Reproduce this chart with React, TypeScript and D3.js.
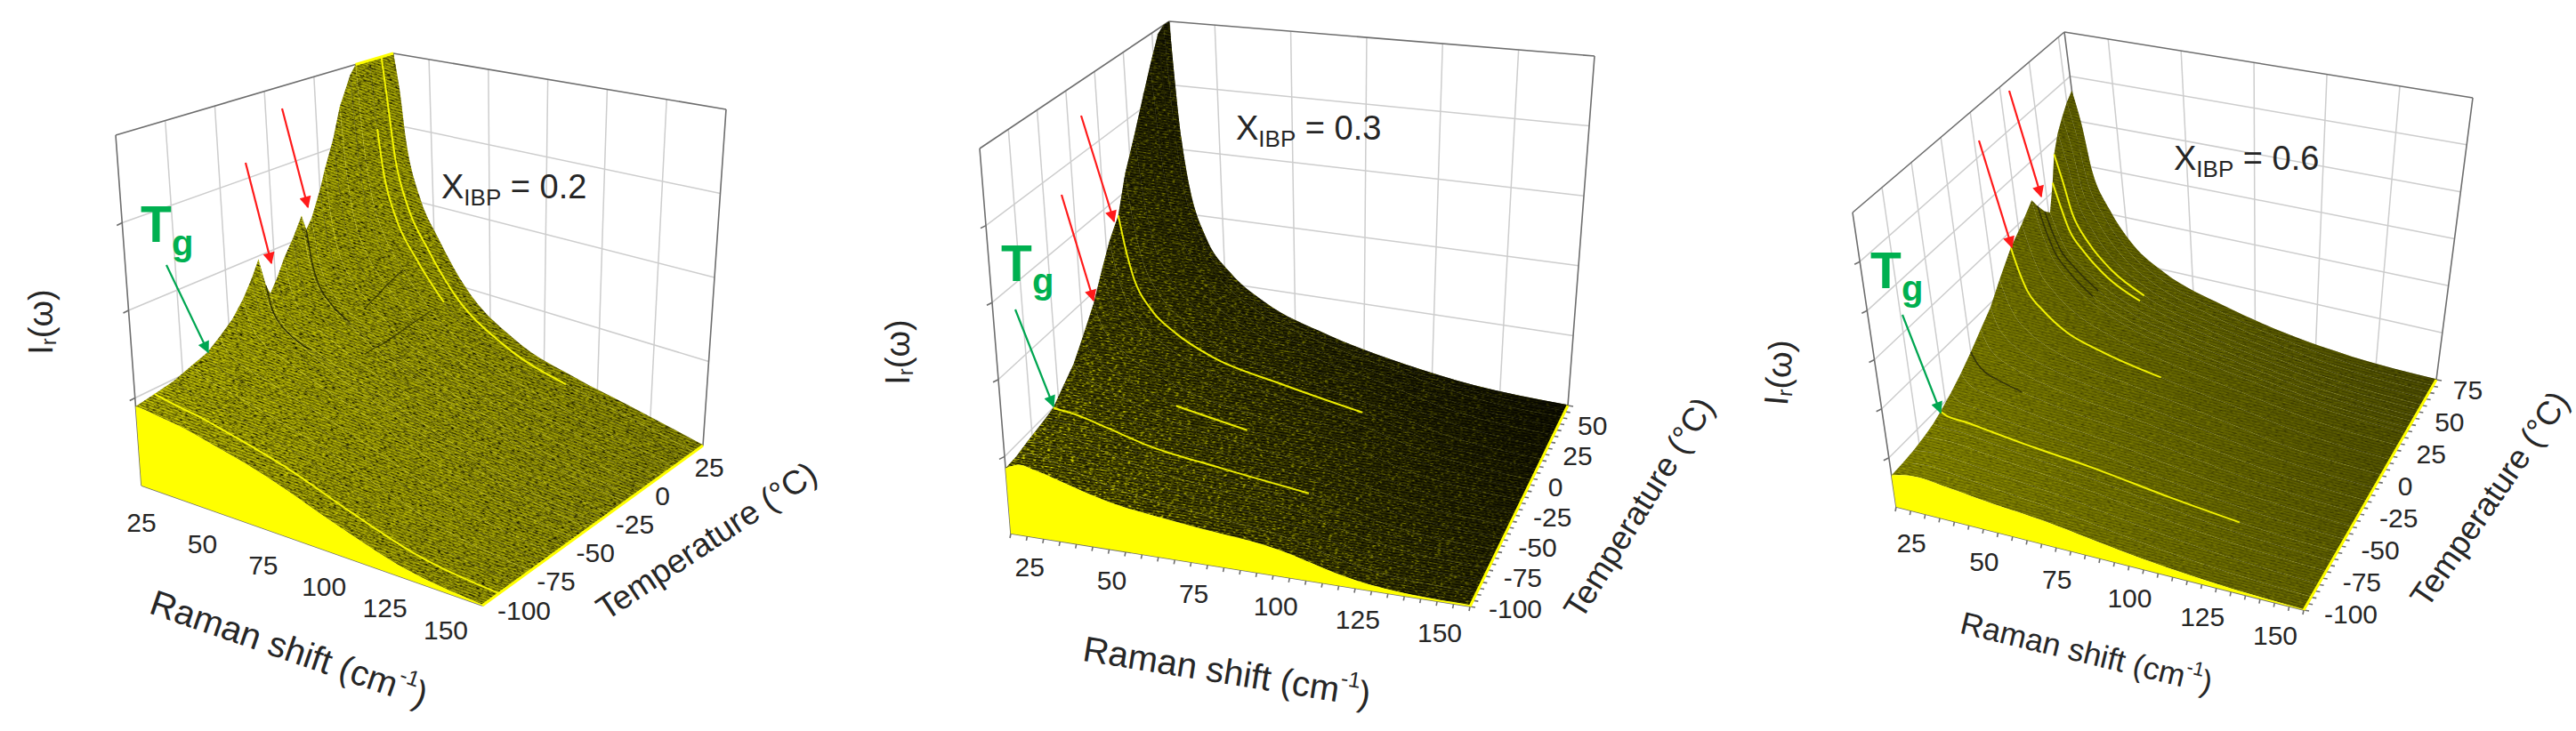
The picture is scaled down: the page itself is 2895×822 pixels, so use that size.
import React from 'react'
import * as d3 from 'd3'

// Raman shift columns of the spectra tables (cm-1)
const ramanCols = [10, 12, 14, 19, 27, 39, 62, 90, 115, 150]
const ramanTicks = [25, 50, 75, 100, 125, 150]

// X_IBP = 0.2 : one row per temperature (height of box = 1)
const tempsA = [-100, -90, -80, -70, -62, -55, -48, -42, -37, -33, -30, -28, -24, -20, -15, -10, -8, -5, 0, 3, 8, 12, 18, 21, 28, 34, 40]
const spectraA = [
  [0.226, 0.226, 0.224, 0.218, 0.21, 0.19, 0.147, 0.08, 0.03, 0.003],
  [0.235, 0.231, 0.228, 0.22, 0.211, 0.19, 0.147, 0.08, 0.03, 0.003],
  [0.245, 0.238, 0.233, 0.223, 0.213, 0.191, 0.146, 0.08, 0.03, 0.003],
  [0.265, 0.25, 0.241, 0.229, 0.216, 0.192, 0.146, 0.08, 0.03, 0.003],
  [0.28, 0.259, 0.248, 0.233, 0.219, 0.193, 0.146, 0.08, 0.03, 0.003],
  [0.31, 0.277, 0.261, 0.242, 0.224, 0.195, 0.146, 0.08, 0.031, 0.003],
  [0.345, 0.299, 0.277, 0.252, 0.23, 0.197, 0.145, 0.08, 0.031, 0.003],
  [0.39, 0.326, 0.297, 0.264, 0.238, 0.2, 0.144, 0.08, 0.032, 0.003],
  [0.44, 0.357, 0.319, 0.278, 0.246, 0.202, 0.143, 0.079, 0.032, 0.003],
  [0.49, 0.387, 0.341, 0.292, 0.254, 0.205, 0.142, 0.079, 0.033, 0.003],
  [0.4, 0.332, 0.301, 0.267, 0.239, 0.2, 0.144, 0.079, 0.032, 0.003],
  [0.37, 0.314, 0.288, 0.258, 0.234, 0.198, 0.144, 0.079, 0.032, 0.003],
  [0.41, 0.338, 0.305, 0.27, 0.241, 0.2, 0.144, 0.079, 0.032, 0.003],
  [0.46, 0.369, 0.328, 0.284, 0.249, 0.203, 0.143, 0.079, 0.033, 0.003],
  [0.51, 0.399, 0.35, 0.298, 0.258, 0.206, 0.142, 0.079, 0.033, 0.003],
  [0.57, 0.435, 0.376, 0.315, 0.268, 0.209, 0.14, 0.078, 0.034, 0.003],
  [0.52, 0.405, 0.354, 0.301, 0.259, 0.206, 0.142, 0.079, 0.033, 0.003],
  [0.55, 0.424, 0.368, 0.309, 0.264, 0.208, 0.141, 0.078, 0.034, 0.003],
  [0.63, 0.472, 0.403, 0.332, 0.278, 0.213, 0.14, 0.078, 0.035, 0.003],
  [0.69, 0.509, 0.43, 0.348, 0.288, 0.216, 0.138, 0.077, 0.035, 0.003],
  [0.78, 0.563, 0.47, 0.374, 0.303, 0.221, 0.137, 0.076, 0.036, 0.003],
  [0.875, 0.621, 0.511, 0.4, 0.319, 0.226, 0.135, 0.075, 0.037, 0.002],
  [0.97, 0.679, 0.554, 0.427, 0.335, 0.232, 0.133, 0.074, 0.038, 0.002],
  [1, 0.71, 0.576, 0.441, 0.343, 0.234, 0.132, 0.073, 0.039, 0.002],
  [1, 0.769, 0.619, 0.469, 0.359, 0.24, 0.13, 0.073, 0.04, 0.002],
  [1, 0.828, 0.662, 0.496, 0.376, 0.245, 0.129, 0.072, 0.041, 0.002],
  [1, 0.88, 0.7, 0.52, 0.39, 0.25, 0.127, 0.071, 0.042, 0.002],
]
const tempTicksA = [-100, -75, -50, -25, 0, 25]
// highlighted spectra: [temperature, first column, last column]
const brightA = [[-90, 0, 9], [34, 0, 7], [28, 1, 5]]
const darkA = [-30, -8]
// dark ragged seams across the spectra: [temperature, column]
const seamsA = [
  [[0, 4], [3, 4], [8, 4], [12, 4], [18, 4], [21, 4]],
  [[-15, 5], [-10, 5], [-5, 5], [3, 5], [12, 5], [21, 5]],
]

// X_IBP = 0.3
const tempsB = [-100, -90, -80, -70, -62, -55, -45, -35, -25, -14, -5, 3, 12, 20, 30, 40, 47, 55, 60, 65]
const spectraB = [
  [0.17, 0.178, 0.184, 0.175, 0.155, 0.125, 0.095, 0.068, 0.02, 0.004],
  [0.172, 0.178, 0.184, 0.176, 0.156, 0.127, 0.097, 0.069, 0.021, 0.004],
  [0.18, 0.182, 0.185, 0.178, 0.158, 0.129, 0.099, 0.07, 0.022, 0.004],
  [0.187, 0.187, 0.188, 0.18, 0.16, 0.131, 0.1, 0.071, 0.023, 0.004],
  [0.193, 0.191, 0.19, 0.182, 0.163, 0.133, 0.102, 0.072, 0.024, 0.004],
  [0.2, 0.196, 0.194, 0.185, 0.165, 0.135, 0.104, 0.073, 0.024, 0.004],
  [0.23, 0.215, 0.207, 0.194, 0.172, 0.139, 0.107, 0.074, 0.025, 0.004],
  [0.26, 0.24, 0.225, 0.205, 0.18, 0.144, 0.11, 0.075, 0.026, 0.004],
  [0.31, 0.27, 0.25, 0.22, 0.19, 0.15, 0.113, 0.076, 0.027, 0.004],
  [0.37, 0.31, 0.28, 0.24, 0.2, 0.157, 0.117, 0.078, 0.028, 0.004],
  [0.44, 0.36, 0.315, 0.26, 0.21, 0.163, 0.12, 0.079, 0.029, 0.004],
  [0.5, 0.4, 0.34, 0.27, 0.215, 0.167, 0.123, 0.08, 0.03, 0.004],
  [0.55, 0.44, 0.365, 0.285, 0.225, 0.172, 0.125, 0.08, 0.03, 0.004],
  [0.65, 0.49, 0.4, 0.305, 0.235, 0.175, 0.124, 0.078, 0.028, 0.004],
  [0.74, 0.54, 0.43, 0.325, 0.245, 0.178, 0.122, 0.074, 0.026, 0.003],
  [0.84, 0.59, 0.46, 0.345, 0.25, 0.178, 0.118, 0.068, 0.023, 0.003],
  [0.91, 0.62, 0.48, 0.35, 0.25, 0.175, 0.112, 0.062, 0.02, 0.003],
  [0.985, 0.65, 0.5, 0.355, 0.25, 0.172, 0.105, 0.055, 0.017, 0.002],
  [1, 0.65, 0.49, 0.345, 0.245, 0.167, 0.098, 0.048, 0.015, 0.002],
  [1, 0.63, 0.48, 0.33, 0.235, 0.16, 0.09, 0.04, 0.013, 0.002],
]
const tempTicksB = [-100, -75, -50, -25, 0, 25, 50]
const brightB = [[12, 0, 7], [-55, 0, 7], [-25, 5, 6]]
const darkB = [40, 55]

// X_IBP = 0.6
const tempsC = [-100, -90, -80, -70, -62, -55, -45, -35, -25, -15, -5, 5, 17, 28, 38, 42, 47, 51, 56, 60, 65, 70, 75, 80]
const spectraC = [
  [0.107, 0.113, 0.118, 0.123, 0.115, 0.1, 0.078, 0.04, 0.017, 0.002],
  [0.11, 0.114, 0.118, 0.123, 0.115, 0.101, 0.078, 0.041, 0.017, 0.002],
  [0.115, 0.117, 0.12, 0.124, 0.116, 0.102, 0.079, 0.042, 0.018, 0.002],
  [0.125, 0.123, 0.124, 0.126, 0.118, 0.103, 0.08, 0.043, 0.018, 0.002],
  [0.135, 0.13, 0.129, 0.129, 0.12, 0.105, 0.081, 0.044, 0.018, 0.002],
  [0.15, 0.14, 0.136, 0.133, 0.122, 0.106, 0.082, 0.045, 0.019, 0.002],
  [0.175, 0.155, 0.148, 0.14, 0.126, 0.109, 0.084, 0.046, 0.019, 0.002],
  [0.205, 0.175, 0.162, 0.15, 0.132, 0.112, 0.086, 0.048, 0.019, 0.002],
  [0.24, 0.2, 0.18, 0.16, 0.138, 0.116, 0.088, 0.049, 0.02, 0.002],
  [0.28, 0.225, 0.2, 0.172, 0.145, 0.12, 0.09, 0.05, 0.02, 0.002],
  [0.32, 0.25, 0.222, 0.185, 0.152, 0.125, 0.092, 0.052, 0.02, 0.002],
  [0.38, 0.3, 0.255, 0.205, 0.162, 0.13, 0.094, 0.054, 0.02, 0.003],
  [0.447, 0.36, 0.3, 0.24, 0.18, 0.14, 0.095, 0.055, 0.02, 0.003],
  [0.49, 0.395, 0.33, 0.26, 0.195, 0.146, 0.095, 0.053, 0.019, 0.003],
  [0.537, 0.43, 0.36, 0.28, 0.21, 0.152, 0.095, 0.05, 0.018, 0.003],
  [0.5, 0.41, 0.345, 0.275, 0.205, 0.15, 0.094, 0.049, 0.017, 0.003],
  [0.46, 0.385, 0.33, 0.27, 0.205, 0.15, 0.093, 0.047, 0.016, 0.003],
  [0.44, 0.37, 0.32, 0.265, 0.205, 0.15, 0.092, 0.045, 0.015, 0.002],
  [0.53, 0.44, 0.365, 0.29, 0.215, 0.155, 0.092, 0.044, 0.014, 0.002],
  [0.62, 0.52, 0.41, 0.31, 0.225, 0.158, 0.091, 0.042, 0.013, 0.002],
  [0.68, 0.57, 0.44, 0.33, 0.23, 0.158, 0.09, 0.04, 0.012, 0.002],
  [0.72, 0.61, 0.46, 0.34, 0.235, 0.157, 0.088, 0.038, 0.011, 0.002],
  [0.755, 0.64, 0.47, 0.345, 0.235, 0.156, 0.087, 0.035, 0.01, 0.002],
  [0.78, 0.66, 0.48, 0.35, 0.235, 0.155, 0.085, 0.033, 0.01, 0.002],
]
const tempTicksC = [-100, -75, -50, -25, 0, 25, 50, 75]
const brightC = [[17, 0, 6], [-55, 0, 8], [56, 0, 5], [60, 0, 5]]
const darkC = [42, 47, -25]

const panels = [
  {
    id: 'a', label: '0.2', temps: tempsA, spectra: spectraA, tempTicks: tempTicksA, bright: brightA, dark: darkA, seams: seamsA,
    tMax: 40, zTicks: [0.25, 0.5, 0.75], minorStep: 0, clipFrom: 21,
    // box corners on the page: front/back, left/right, bottom/top
    A: [159, 546], B: [542, 681], C: [790, 501], D: [456, 383], E: [130, 152], F: [442, 60], G: [816, 123], H: [544, 232],
    xOff: [-41, 27], tOff: [17, 5],
    raman: { x: 325, y: 729, a: 19, size: 40 }, temp: { x: 794, y: 608, a: -33.6, size: 37.5 }, ir: { x: 46, y: 362, a: -90 },
    note: [496, 223], tgT: [158, 272], tgG: [193, 287],
    green: [[187, 298], [234, 396]], red: [[[276, 183], [305, 296]], [[317, 122], [346, 233]]],
    tex: { base: '#9a9a06', hi: '#c8c80a', lo: '#707000' }, shadeTo: [790, 501], shade: 0.22, noise: [3.5, 2.5], lineOp: 0.5,
  },
  {
    id: 'b', label: '0.3', temps: tempsB, spectra: spectraB, tempTicks: tempTicksB, bright: brightB, dark: darkB, seams: [],
    tMax: 65, zTicks: [0.2, 0.4, 0.6, 0.8], minorStep: 5, clipFrom: 0,
    A: [1136, 600], B: [1652, 682], C: [1762, 456], D: [1334, 383], E: [1101, 167], F: [1314, 24], G: [1792, 63], H: [1665, 215],
    xOff: [-34, 29], tOff: [21, 2],
    raman: { x: 1379, y: 755, a: 9.2, size: 40 }, temp: { x: 1842, y: 571, a: -58, size: 37 }, ir: { x: 1009, y: 396, a: -90 },
    note: [1389, 157], tgT: [1125, 316], tgG: [1160, 330],
    green: [[1141, 348], [1184, 457]], red: [[[1193, 219], [1229, 338]], [[1215, 130], [1252, 249]]],
    tex: { base: '#484800', hi: '#747400', lo: '#1c1c00' }, shadeTo: [1700, 200], shade: 1, noise: [3, 5], lineOp: 0.3,
  },
  {
    id: 'c', label: '0.6', temps: tempsC, spectra: spectraC, tempTicks: tempTicksC, bright: brightC, dark: darkC, seams: [],
    tMax: 80, zTicks: [1 / 6, 2 / 6, 3 / 6, 4 / 6, 5 / 6], minorStep: 5, clipFrom: 0,
    A: [2131, 570], B: [2589, 686], C: [2738, 427], D: [2358, 335], E: [2082, 239], F: [2320, 36], G: [2779, 110], H: [2618, 337],
    xOff: [-32, 28], tOff: [23, 4],
    raman: { x: 2345, y: 734, a: 13.6, size: 35.5 }, temp: { x: 2798, y: 561, a: -55.5, size: 37 }, ir: { x: 1999, y: 419, a: -85 },
    note: [2443, 191], tgT: [2102, 324], tgG: [2137, 338],
    green: [[2138, 354], [2181, 464]], red: [[[2224, 158], [2261, 278]], [[2258, 102], [2294, 221]]],
    tex: { base: '#808100', hi: '#919200', lo: '#6a6b00' }, shadeTo: [2700, 250], shade: 0.5, noise: [1.2, 1], lineOp: 0.07,
  },
]

const FONT = '"Liberation Sans", Arial, sans-serif'
const INK = '#262626'
const BOX = '#6e6e6e'
const GRID = '#cdcdcd'
const YELLOW = '#ffff00'

type Pt = number[]
const mix = (p: Pt, q: Pt, f: number) => [p[0] + (q[0] - p[0]) * f, p[1] + (q[1] - p[1]) * f]

// d3 scales to box fractions, then trilinear between the eight box corners
const makeProject = (p: any) => {
  const sx = d3.scaleLinear().domain([10, 150]).range([0, 1])
  const st = d3.scaleLinear().domain([-100, p.tMax]).range([0, 1])
  return (x: number, t: number, z: number) => {
    const bottom = mix(mix(p.A, p.B, sx(x)), mix(p.D, p.C, sx(x)), st(t))
    const top = mix(mix(p.E, p.H, sx(x)), mix(p.F, p.G, sx(x)), st(t))
    return mix(bottom, top, z)
  }
}

const seg = (a: Pt, b: Pt) => `M${a[0]},${a[1]}L${b[0]},${b[1]}`

const Panel = ({ p }: { p: any }) => {
  const project = makeProject(p)
  const rowLine = d3.line().curve(d3.curveMonotoneX)
  const tMin = -100
  const rowPts = (t: number, row: number[]) => row.map((v, i) => project(ramanCols[i], t, v))
  const angle = (Math.atan2(p.B[1] - p.A[1], p.B[0] - p.A[0]) * 180) / Math.PI
  const order = d3.range(p.temps.length - 1).reverse()
  const cx = (p.A[0] + p.C[0]) / 2
  const cy = (p.A[1] + p.C[1]) / 2

  // mesh cell between a table row and the next one behind it
  const ribbon = (i: number) => {
    const near = rowPts(p.temps[i], p.spectra[i])
    const far = rowPts(p.temps[i + 1], p.spectra[i + 1]).reverse()
    return `${rowLine(near as any)}L${(rowLine(far as any) as string).slice(1)}Z`
  }
  const frontFace = () => {
    const end = project(150, tMin, 0)
    const start = project(10, tMin, 0)
    return `${rowLine(rowPts(tMin, p.spectra[0]) as any)}L${end[0]},${end[1]}L${start[0]},${start[1]}Z`
  }
  const minor = p.minorStep ? d3.range(-100, p.tMax + 0.1, p.minorStep) : []
  const minorX = p.minorStep ? d3.range(10, 150.1, 5) : []
  const seamPts = (seam: number[][]) =>
    seam.map(([t, c]) => project(ramanCols[c], t, p.spectra[p.temps.indexOf(t)][c]))

  return (
    <g>
      <defs>
        <pattern id={`tex-${p.id}`} width={5} height={3} patternUnits='userSpaceOnUse' patternTransform={`rotate(${angle})`}>
          <rect width={5} height={3} fill={p.tex.base} />
          <rect width={5} height={1} y={0} fill={p.tex.hi} />
          <rect width={5} height={1} y={2} fill={p.tex.lo} />
        </pattern>
        <linearGradient id={`shade-${p.id}`} gradientUnits='userSpaceOnUse' x1={p.A[0]} y1={p.A[1]} x2={p.shadeTo[0]} y2={p.shadeTo[1]}>
          <stop offset='0' stopColor='#000' stopOpacity={0} />
          <stop offset='1' stopColor='#000' stopOpacity={p.shade} />
        </linearGradient>
        <mask id={`surf-${p.id}`} maskUnits='userSpaceOnUse' x={0} y={0} width={2895} height={822}>
          {order.map((i) => <path key={i} d={ribbon(i)} fill='#fff' />)}
        </mask>
        {/* texture only: streaks along the spectra, no values come from it */}
        <filter id={`streak-${p.id}`} x='0' y='0' width='1' height='1' colorInterpolationFilters='sRGB'>
          <feTurbulence type='fractalNoise' baseFrequency='0.22 0.8' numOctaves={2} seed={7} result='n' />
          <feColorMatrix in='n' type='matrix' values={`0 0 0 0 0  0 0 0 0 0  0 0 0 0 0  ${p.noise[0]} 0 0 0 ${-p.noise[0] * 0.52}`} result='dark' />
          <feColorMatrix in='n' type='matrix' values={`0 0 0 0 1  0 0 0 0 1  0 0 0 0 0  0 ${p.noise[1]} 0 0 ${-p.noise[1] * 0.56}`} result='light' />
          <feMerge>
            <feMergeNode in='dark' />
            <feMergeNode in='light' />
          </feMerge>
        </filter>
      </defs>

      {/* walls */}
      <g stroke={GRID} strokeWidth={1.5} fill='none'>
        {p.tempTicks.slice(1).map((t: number) => <path key={`tg${t}`} d={seg(project(10, t, 0), project(10, t, 1))} />)}
        {ramanTicks.slice(0, -1).map((x) => <path key={`xg${x}`} d={seg(project(x, p.tMax, 0), project(x, p.tMax, 1))} />)}
        {p.zTicks.map((z: number) => (
          <path key={`zg${z}`} d={seg(project(10, tMin, z), project(10, p.tMax, z)) + seg(project(10, p.tMax, z), project(150, p.tMax, z))} />
        ))}
      </g>
      <g stroke={BOX} strokeWidth={1.6} fill='none'>
        <path d={seg(p.A, p.E) + seg(p.E, p.F) + seg(p.F, p.G) + seg(p.G, p.C) + seg(p.F, p.D)} />
        <path d={seg(p.A, p.B) + seg(p.B, p.C)} />
        {p.zTicks.map((z: number) => {
          const a = project(10, tMin, z)
          return <path key={`zt${z}`} d={seg(a, [a[0] - 6, a[1] + 3])} />
        })}
        {minor.map((t: number) => {
          const a = project(150, t, 0)
          return <path key={`tt${t}`} d={seg(a, [a[0] + 6, a[1] + 1])} />
        })}
        {minorX.map((x: number) => {
          const a = project(x, tMin, 0)
          return <path key={`xt${x}`} d={seg(a, [a[0] - 1, a[1] + 5])} />
        })}
      </g>

      {/* spectra, back to front */}
      <g>
        {order.map((i) => (
          <g key={p.temps[i]}>
            <path d={ribbon(i)} fill={`url(#tex-${p.id})`} stroke='none' />
            <path d={rowLine(rowPts(p.temps[i], p.spectra[i]) as any) as string} fill='none' stroke={i % 2 ? '#ffff30' : '#1a1a00'} strokeOpacity={p.lineOp} strokeWidth={1} />
          </g>
        ))}
      </g>
      <g mask={`url(#surf-${p.id})`}>
        <rect x={cx - 700} y={cy - 700} width={1400} height={1400} fill='#000' transform={`rotate(${angle} ${cx} ${cy})`} filter={`url(#streak-${p.id})`} />
        <rect x={cx - 700} y={cy - 700} width={1400} height={1400} fill={`url(#shade-${p.id})`} />
      </g>
      <g fill='none'>
        {p.dark.map((t: number) => {
          const i = p.temps.indexOf(t)
          return <path key={`d${t}`} d={rowLine(rowPts(t, p.spectra[i]).slice(0, 5) as any) as string} stroke='#151500' strokeWidth={1.5} strokeOpacity={0.7} />
        })}
        {p.seams.map((s: number[][], i: number) => (
          <path key={`s${i}`} d={d3.line()(seamPts(s) as any) as string} stroke='#1c1c00' strokeWidth={1.4} strokeOpacity={0.6} />
        ))}
        {p.bright.map(([t, from, to]: number[]) => {
          const i = p.temps.indexOf(t)
          return <path key={`b${t}`} d={rowLine(rowPts(t, p.spectra[i]).slice(from, to + 1) as any) as string} stroke={YELLOW} strokeWidth={2} strokeOpacity={0.9} />
        })}
        {p.clipFrom ? <path d={seg(project(10, p.clipFrom, 1), project(10, p.tMax, 1))} stroke={YELLOW} strokeWidth={3} /> : null}
      </g>
      {/* front spectrum is the solid yellow face, right edge is a yellow sliver */}
      <path d={frontFace()} fill={YELLOW} stroke='none' />
      <path d={seg(p.B, p.C)} stroke={YELLOW} strokeWidth={3} fill='none' />

      {/* tick labels */}
      <g fontFamily={FONT} fontSize={30} fill={INK}>
        {ramanTicks.map((x) => {
          const a = project(x, tMin, 0)
          return <text key={`xl${x}`} x={a[0] + p.xOff[0]} y={a[1] + p.xOff[1]} textAnchor='middle' dominantBaseline='central'>{x}</text>
        })}
        {p.tempTicks.map((t: number) => {
          const a = project(150, t, 0)
          return <text key={`tl${t}`} x={a[0] + p.tOff[0]} y={a[1] + p.tOff[1]} textAnchor='start' dominantBaseline='central'>{t}</text>
        })}
      </g>

      {/* axis titles */}
      <g fontFamily={FONT} fill={INK} textAnchor='middle' dominantBaseline='central'>
        <text transform={`translate(${p.raman.x},${p.raman.y}) rotate(${p.raman.a})`} fontSize={p.raman.size}>
          Raman shift (cm<tspan fontSize={p.raman.size * 0.62} dy={-p.raman.size * 0.35}>-1</tspan><tspan dy={p.raman.size * 0.35}>)</tspan>
        </text>
        <text transform={`translate(${p.temp.x},${p.temp.y}) rotate(${p.temp.a})`} fontSize={p.temp.size}>Temperature (°C)</text>
        <text transform={`translate(${p.ir.x},${p.ir.y}) rotate(${p.ir.a})`} fontSize={38}>
          I<tspan fontSize={24} dy={8}>r</tspan><tspan dy={-8}>(ω)</tspan>
        </text>
      </g>

      <text x={p.note[0]} y={p.note[1]} fontFamily={FONT} fontSize={38} fill={INK}>
        X<tspan fontSize={26} dy={8}>IBP</tspan><tspan dy={-8}> = {p.label}</tspan>
      </text>
      <g fontFamily={FONT} fontWeight='bold' fill='#00b050'>
        <text x={p.tgT[0]} y={p.tgT[1]} fontSize={57}>T</text>
        <text x={p.tgG[0]} y={p.tgG[1]} fontSize={40}>g</text>
      </g>

      <line x1={p.green[0][0]} y1={p.green[0][1]} x2={p.green[1][0]} y2={p.green[1][1]} stroke='#00a651' strokeWidth={2.2} markerEnd='url(#headGreen)' />
      {p.red.map((r: number[][], i: number) => (
        <line key={i} x1={r[0][0]} y1={r[0][1]} x2={r[1][0]} y2={r[1][1]} stroke='#ff1a1a' strokeWidth={2.2} markerEnd='url(#headRed)' />
      ))}
    </g>
  )
}

const App = () => (
  <svg width={2895} height={822} viewBox='0 0 2895 822' style={{ position: 'absolute', left: 0, top: 0, display: 'block', background: '#fff' }}>
    <defs>
      <marker id='headGreen' viewBox='0 0 10 10' refX={9} refY={5} markerWidth={7} markerHeight={6} orient='auto' markerUnits='strokeWidth'>
        <path d='M0,0L10,5L0,10Z' fill='#00a651' />
      </marker>
      <marker id='headRed' viewBox='0 0 10 10' refX={9} refY={5} markerWidth={7} markerHeight={6} orient='auto' markerUnits='strokeWidth'>
        <path d='M0,0L10,5L0,10Z' fill='#ff1a1a' />
      </marker>
    </defs>
    {panels.map((p) => <Panel key={p.id} p={p} />)}
  </svg>
)

export default App
